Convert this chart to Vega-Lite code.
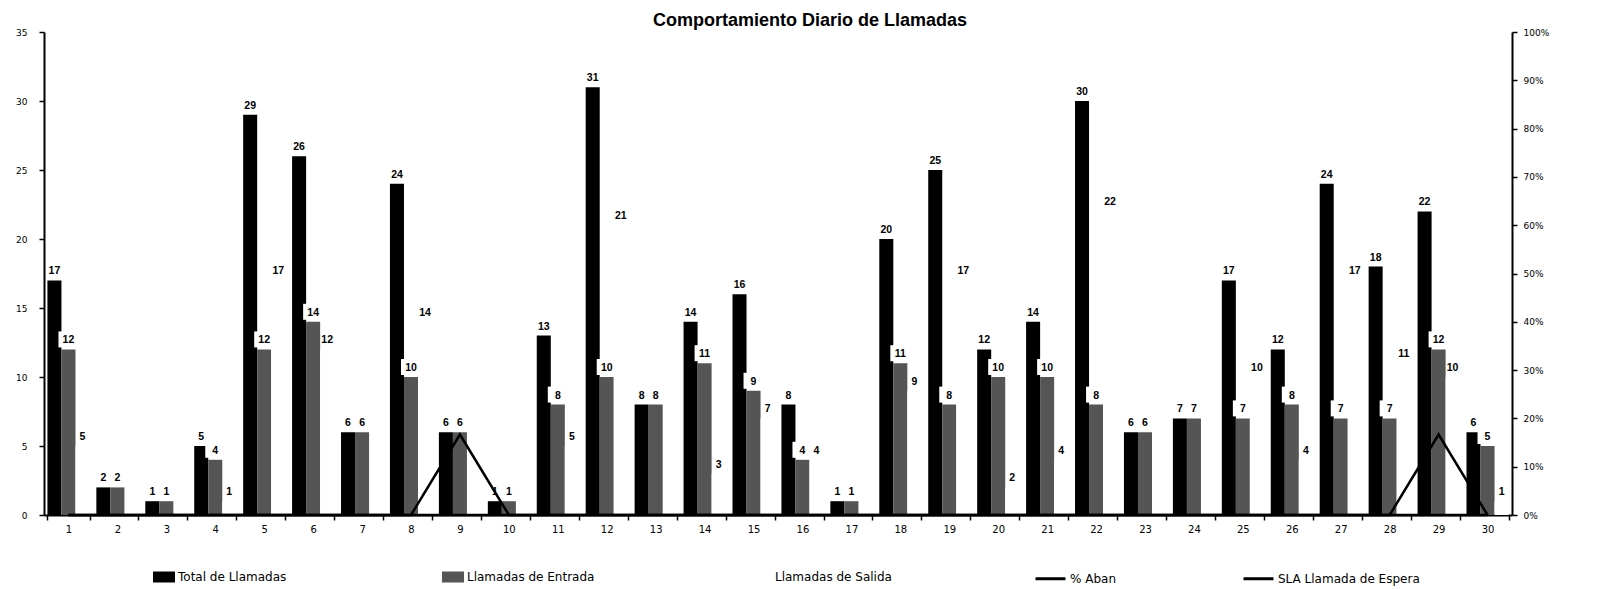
{
  "$schema": "https://vega.github.io/schema/vega-lite/v6.json",
  "width": 1468,
  "height": 483,
  "autosize": {"type": "none"},
  "padding": {"left": 44, "top": 32, "right": 85, "bottom": 74},
  "background": "white",
  "config": {
    "view": {"stroke": null},
    "font": "Liberation Sans",
    "axis": {"domainColor": "black", "domainWidth": 1.5, "tickColor": "black", "tickWidth": 1.5, "tickSize": 5, "labelColor": "black", "labelFont": "DejaVu Sans", "labelFontSize": 9, "grid": false, "title": null},
    "legend": {"labelFont": "DejaVu Sans", "labelFontSize": 12, "labelColor": "black", "title": null}
  },
  "title": {"text": "Comportamiento Diario de Llamadas", "fontSize": 18, "fontWeight": "bold", "font": "Liberation Sans", "color": "black", "anchor": "middle", "dx": 32, "offset": -2},
  "datasets": {
    "llamadas": [
      {"dia": 1, "serie": "Total de Llamadas", "valor": 17}, {"dia": 1, "serie": "Llamadas de Entrada", "valor": 12}, {"dia": 1, "serie": "Llamadas de Salida", "valor": 5},
      {"dia": 2, "serie": "Total de Llamadas", "valor": 2}, {"dia": 2, "serie": "Llamadas de Entrada", "valor": 2}, {"dia": 2, "serie": "Llamadas de Salida", "valor": 0},
      {"dia": 3, "serie": "Total de Llamadas", "valor": 1}, {"dia": 3, "serie": "Llamadas de Entrada", "valor": 1}, {"dia": 3, "serie": "Llamadas de Salida", "valor": 0},
      {"dia": 4, "serie": "Total de Llamadas", "valor": 5}, {"dia": 4, "serie": "Llamadas de Entrada", "valor": 4}, {"dia": 4, "serie": "Llamadas de Salida", "valor": 1},
      {"dia": 5, "serie": "Total de Llamadas", "valor": 29}, {"dia": 5, "serie": "Llamadas de Entrada", "valor": 12}, {"dia": 5, "serie": "Llamadas de Salida", "valor": 17},
      {"dia": 6, "serie": "Total de Llamadas", "valor": 26}, {"dia": 6, "serie": "Llamadas de Entrada", "valor": 14}, {"dia": 6, "serie": "Llamadas de Salida", "valor": 12},
      {"dia": 7, "serie": "Total de Llamadas", "valor": 6}, {"dia": 7, "serie": "Llamadas de Entrada", "valor": 6}, {"dia": 7, "serie": "Llamadas de Salida", "valor": 0},
      {"dia": 8, "serie": "Total de Llamadas", "valor": 24}, {"dia": 8, "serie": "Llamadas de Entrada", "valor": 10}, {"dia": 8, "serie": "Llamadas de Salida", "valor": 14},
      {"dia": 9, "serie": "Total de Llamadas", "valor": 6}, {"dia": 9, "serie": "Llamadas de Entrada", "valor": 6}, {"dia": 9, "serie": "Llamadas de Salida", "valor": 0},
      {"dia": 10, "serie": "Total de Llamadas", "valor": 1}, {"dia": 10, "serie": "Llamadas de Entrada", "valor": 1}, {"dia": 10, "serie": "Llamadas de Salida", "valor": 0},
      {"dia": 11, "serie": "Total de Llamadas", "valor": 13}, {"dia": 11, "serie": "Llamadas de Entrada", "valor": 8}, {"dia": 11, "serie": "Llamadas de Salida", "valor": 5},
      {"dia": 12, "serie": "Total de Llamadas", "valor": 31}, {"dia": 12, "serie": "Llamadas de Entrada", "valor": 10}, {"dia": 12, "serie": "Llamadas de Salida", "valor": 21},
      {"dia": 13, "serie": "Total de Llamadas", "valor": 8}, {"dia": 13, "serie": "Llamadas de Entrada", "valor": 8}, {"dia": 13, "serie": "Llamadas de Salida", "valor": 0},
      {"dia": 14, "serie": "Total de Llamadas", "valor": 14}, {"dia": 14, "serie": "Llamadas de Entrada", "valor": 11}, {"dia": 14, "serie": "Llamadas de Salida", "valor": 3},
      {"dia": 15, "serie": "Total de Llamadas", "valor": 16}, {"dia": 15, "serie": "Llamadas de Entrada", "valor": 9}, {"dia": 15, "serie": "Llamadas de Salida", "valor": 7},
      {"dia": 16, "serie": "Total de Llamadas", "valor": 8}, {"dia": 16, "serie": "Llamadas de Entrada", "valor": 4}, {"dia": 16, "serie": "Llamadas de Salida", "valor": 4},
      {"dia": 17, "serie": "Total de Llamadas", "valor": 1}, {"dia": 17, "serie": "Llamadas de Entrada", "valor": 1}, {"dia": 17, "serie": "Llamadas de Salida", "valor": 0},
      {"dia": 18, "serie": "Total de Llamadas", "valor": 20}, {"dia": 18, "serie": "Llamadas de Entrada", "valor": 11}, {"dia": 18, "serie": "Llamadas de Salida", "valor": 9},
      {"dia": 19, "serie": "Total de Llamadas", "valor": 25}, {"dia": 19, "serie": "Llamadas de Entrada", "valor": 8}, {"dia": 19, "serie": "Llamadas de Salida", "valor": 17},
      {"dia": 20, "serie": "Total de Llamadas", "valor": 12}, {"dia": 20, "serie": "Llamadas de Entrada", "valor": 10}, {"dia": 20, "serie": "Llamadas de Salida", "valor": 2},
      {"dia": 21, "serie": "Total de Llamadas", "valor": 14}, {"dia": 21, "serie": "Llamadas de Entrada", "valor": 10}, {"dia": 21, "serie": "Llamadas de Salida", "valor": 4},
      {"dia": 22, "serie": "Total de Llamadas", "valor": 30}, {"dia": 22, "serie": "Llamadas de Entrada", "valor": 8}, {"dia": 22, "serie": "Llamadas de Salida", "valor": 22},
      {"dia": 23, "serie": "Total de Llamadas", "valor": 6}, {"dia": 23, "serie": "Llamadas de Entrada", "valor": 6}, {"dia": 23, "serie": "Llamadas de Salida", "valor": 0},
      {"dia": 24, "serie": "Total de Llamadas", "valor": 7}, {"dia": 24, "serie": "Llamadas de Entrada", "valor": 7}, {"dia": 24, "serie": "Llamadas de Salida", "valor": 0},
      {"dia": 25, "serie": "Total de Llamadas", "valor": 17}, {"dia": 25, "serie": "Llamadas de Entrada", "valor": 7}, {"dia": 25, "serie": "Llamadas de Salida", "valor": 10},
      {"dia": 26, "serie": "Total de Llamadas", "valor": 12}, {"dia": 26, "serie": "Llamadas de Entrada", "valor": 8}, {"dia": 26, "serie": "Llamadas de Salida", "valor": 4},
      {"dia": 27, "serie": "Total de Llamadas", "valor": 24}, {"dia": 27, "serie": "Llamadas de Entrada", "valor": 7}, {"dia": 27, "serie": "Llamadas de Salida", "valor": 17},
      {"dia": 28, "serie": "Total de Llamadas", "valor": 18}, {"dia": 28, "serie": "Llamadas de Entrada", "valor": 7}, {"dia": 28, "serie": "Llamadas de Salida", "valor": 11},
      {"dia": 29, "serie": "Total de Llamadas", "valor": 22}, {"dia": 29, "serie": "Llamadas de Entrada", "valor": 12}, {"dia": 29, "serie": "Llamadas de Salida", "valor": 10},
      {"dia": 30, "serie": "Total de Llamadas", "valor": 6}, {"dia": 30, "serie": "Llamadas de Entrada", "valor": 5}, {"dia": 30, "serie": "Llamadas de Salida", "valor": 1}
    ],
    "lineas": [
      {"dia": 1, "serie": "SLA Llamada de Espera", "valor": 0}, {"dia": 2, "serie": "SLA Llamada de Espera", "valor": 0}, {"dia": 3, "serie": "SLA Llamada de Espera", "valor": 0}, {"dia": 4, "serie": "SLA Llamada de Espera", "valor": 0}, {"dia": 5, "serie": "SLA Llamada de Espera", "valor": 0}, {"dia": 6, "serie": "SLA Llamada de Espera", "valor": 0}, {"dia": 7, "serie": "SLA Llamada de Espera", "valor": 0}, {"dia": 8, "serie": "SLA Llamada de Espera", "valor": 0}, {"dia": 9, "serie": "SLA Llamada de Espera", "valor": 0}, {"dia": 10, "serie": "SLA Llamada de Espera", "valor": 0},
      {"dia": 11, "serie": "SLA Llamada de Espera", "valor": 0}, {"dia": 12, "serie": "SLA Llamada de Espera", "valor": 0}, {"dia": 13, "serie": "SLA Llamada de Espera", "valor": 0}, {"dia": 14, "serie": "SLA Llamada de Espera", "valor": 0}, {"dia": 15, "serie": "SLA Llamada de Espera", "valor": 0}, {"dia": 16, "serie": "SLA Llamada de Espera", "valor": 0}, {"dia": 17, "serie": "SLA Llamada de Espera", "valor": 0}, {"dia": 18, "serie": "SLA Llamada de Espera", "valor": 0}, {"dia": 19, "serie": "SLA Llamada de Espera", "valor": 0}, {"dia": 20, "serie": "SLA Llamada de Espera", "valor": 0},
      {"dia": 21, "serie": "SLA Llamada de Espera", "valor": 0}, {"dia": 22, "serie": "SLA Llamada de Espera", "valor": 0}, {"dia": 23, "serie": "SLA Llamada de Espera", "valor": 0}, {"dia": 24, "serie": "SLA Llamada de Espera", "valor": 0}, {"dia": 25, "serie": "SLA Llamada de Espera", "valor": 0}, {"dia": 26, "serie": "SLA Llamada de Espera", "valor": 0}, {"dia": 27, "serie": "SLA Llamada de Espera", "valor": 0}, {"dia": 28, "serie": "SLA Llamada de Espera", "valor": 0}, {"dia": 29, "serie": "SLA Llamada de Espera", "valor": 0}, {"dia": 30, "serie": "SLA Llamada de Espera", "valor": 0},
      {"dia": 1, "serie": "% Aban", "valor": 0}, {"dia": 2, "serie": "% Aban", "valor": 0}, {"dia": 3, "serie": "% Aban", "valor": 0}, {"dia": 4, "serie": "% Aban", "valor": 0}, {"dia": 5, "serie": "% Aban", "valor": 0}, {"dia": 6, "serie": "% Aban", "valor": 0}, {"dia": 7, "serie": "% Aban", "valor": 0}, {"dia": 8, "serie": "% Aban", "valor": 0}, {"dia": 9, "serie": "% Aban", "valor": 0.1667}, {"dia": 10, "serie": "% Aban", "valor": 0},
      {"dia": 11, "serie": "% Aban", "valor": 0}, {"dia": 12, "serie": "% Aban", "valor": 0}, {"dia": 13, "serie": "% Aban", "valor": 0}, {"dia": 14, "serie": "% Aban", "valor": 0}, {"dia": 15, "serie": "% Aban", "valor": 0}, {"dia": 16, "serie": "% Aban", "valor": 0}, {"dia": 17, "serie": "% Aban", "valor": 0}, {"dia": 18, "serie": "% Aban", "valor": 0}, {"dia": 19, "serie": "% Aban", "valor": 0}, {"dia": 20, "serie": "% Aban", "valor": 0},
      {"dia": 21, "serie": "% Aban", "valor": 0}, {"dia": 22, "serie": "% Aban", "valor": 0}, {"dia": 23, "serie": "% Aban", "valor": 0}, {"dia": 24, "serie": "% Aban", "valor": 0}, {"dia": 25, "serie": "% Aban", "valor": 0}, {"dia": 26, "serie": "% Aban", "valor": 0}, {"dia": 27, "serie": "% Aban", "valor": 0}, {"dia": 28, "serie": "% Aban", "valor": 0}, {"dia": 29, "serie": "% Aban", "valor": 0.1667}, {"dia": 30, "serie": "% Aban", "valor": 0}
    ]
  },
  "encoding": {
    "x": {"field": "dia", "type": "ordinal", "scale": {"paddingInner": 0.14, "paddingOuter": 0.07},
          "axis": {"labelAngle": 0, "tickBand": "extent", "labelFontSize": 10, "labelPadding": 4, "domainWidth": 2}}
  },
  "layer": [
    {
      "data": {"name": "llamadas"},
      "encoding": {
        "y": {"field": "valor", "type": "quantitative", "scale": {"domain": [0, 35], "nice": false},
              "axis": {"orient": "left", "values": [0, 5, 10, 15, 20, 25, 30, 35], "labelPadding": 12, "domainWidth": 2}},
        "xOffset": {"field": "serie", "type": "nominal", "scale": {"domain": ["Total de Llamadas", "Llamadas de Entrada", "Llamadas de Salida"], "paddingInner": 0, "paddingOuter": 0}}
      },
      "layer": [
        {
          "mark": {"type": "bar", "strokeWidth": 0},
          "encoding": {
            "fill": {"field": "serie", "type": "nominal",
                     "scale": {"domain": ["Total de Llamadas", "Llamadas de Entrada", "Llamadas de Salida"], "range": ["#000000", "#555555", "#ffffff"]},
                     "legend": {"orient": "none", "legendX": 109, "legendY": 534, "direction": "horizontal", "columns": 3, "gridAlign": "each", "columnPadding": 155,
                                "symbolType": "M-1,-0.5H1V0.5H-1Z", "symbolSize": 484, "symbolStrokeWidth": 0, "labelOffset": 3}}
          }
        },
        {
          "transform": [{"filter": "datum.serie == 'Llamadas de Entrada'"}],
          "mark": {"type": "point", "shape": "M-1,-0.8H1V0.8H-1Z", "size": 400, "filled": true, "color": "white", "opacity": 1, "yOffset": -10}
        },
        {
          "transform": [{"filter": "datum.valor > 0"}],
          "mark": {"type": "text", "baseline": "bottom", "dy": -4, "fontSize": 10.5, "fontWeight": "bold", "font": "Liberation Sans", "color": "black"},
          "encoding": {"text": {"field": "valor", "type": "quantitative"}}
        }
      ]
    },
    {
      "data": {"name": "lineas"},
      "mark": {"type": "line", "strokeWidth": 2.5},
      "encoding": {
        "y": {"field": "valor", "type": "quantitative", "scale": {"domain": [0, 1], "nice": false},
              "axis": {"orient": "right", "values": [0, 0.1, 0.2, 0.3, 0.4, 0.5, 0.6, 0.7, 0.8, 0.9, 1], "format": ".0%", "labelPadding": 6, "domainWidth": 2}},
        "stroke": {"field": "serie", "type": "nominal",
                   "scale": {"domain": ["% Aban", "SLA Llamada de Espera"], "range": ["#000000", "#000000"]},
                   "legend": {"orient": "none", "legendX": 990, "legendY": 530, "direction": "horizontal", "columns": 2, "gridAlign": "each", "columnPadding": 120,
                              "symbolType": "stroke", "symbolSize": 900, "symbolStrokeWidth": 3, "labelOffset": 3}}
      }
    }
  ],
  "resolve": {"scale": {"y": "independent"}}
}
